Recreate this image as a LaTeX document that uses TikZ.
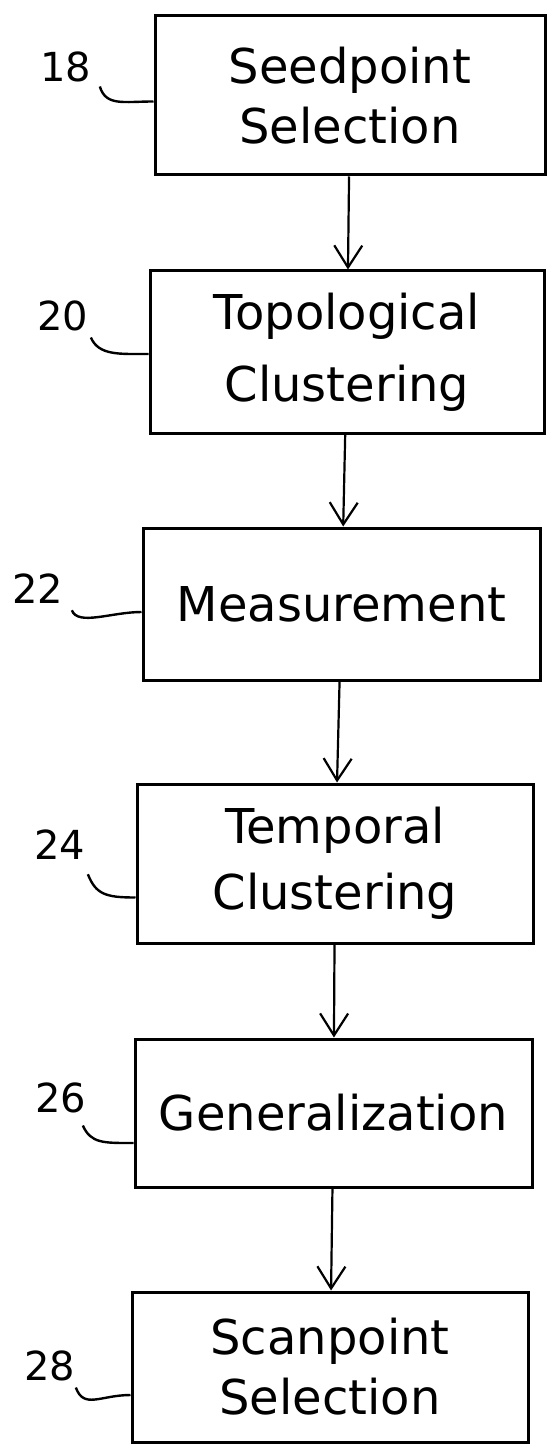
\documentclass[tikz,border=0pt]{standalone}
\usepackage{fontspec}
\setmainfont{DejaVu Sans}
\usetikzlibrary{arrows.meta}
\tikzset{
  stepbox/.style={draw, line width=1.5pt, align=center, inner sep=0pt,
    font=\fontsize{24}{30}\selectfont},
  refnum/.style={inner sep=0pt, font=\fontsize{20}{20}\selectfont},
  leader/.style={line width=1.2pt},
  flow/.style={line width=1.1pt, -{Straight Barb[length=11pt,width=14pt,line width=1.1pt]}}
}

\begin{document}
\begin{tikzpicture}[x=0.5pt,y=-0.5pt]
\useasboundingbox (0,0) rectangle (546,1444);
% process steps
\node[stepbox, minimum width=195pt, minimum height=79.5pt] (seed) at (350,95.5) {Seedpoint\\Selection};
\node[stepbox, minimum width=197pt, minimum height=81pt] (topo) at (347,352) {Topological\\[6pt]Clustering};
\node[stepbox, minimum width=198.5pt, minimum height=76pt] (meas) at (341.5,604) {Measurement};
\node[stepbox, minimum width=198pt, minimum height=79.5pt] (temp) at (335,863.5) {Temporal\\[3pt]Clustering};
\node[stepbox, minimum width=198.5pt, minimum height=74pt] (gen) at (333.5,1113) {Generalization};
\node[stepbox, minimum width=198pt, minimum height=75pt] (scan) at (330,1367) {Scanpoint\\Selection};
% reference numerals
\node[refnum] (n18) at (66,67) {18};
\node[refnum] (n20) at (63,316) {20};
\node[refnum] (n22) at (38,589) {22};
\node[refnum] (n24) at (60,845) {24};
\node[refnum] (n26) at (61,1098) {26};
\node[refnum] (n28) at (50,1366) {28};
% leaders
\draw[leader] ([shift={(4pt,-2pt)}]n18.south east) .. controls +(6,20) and +(-30,0) .. ([yshift=-3pt]seed.west);
\draw[leader] ([shift={(1pt,-3pt)}]n20.south east) .. controls +(8,18) and +(-30,0) .. ([yshift=-1pt]topo.west);
\draw[leader] ([shift={(4pt,-3pt)}]n22.south east) .. controls +(6,16) and +(-30,0) .. ([yshift=-4pt]meas.west);
\draw[leader] ([shift={(1pt,-7pt)}]n24.south east) .. controls +(8,20) and +(-30,0) .. ([yshift=-17pt]temp.west);
\draw[leader] ([shift={(-2pt,-6pt)}]n26.south east) .. controls +(8,18) and +(-30,0) .. ([yshift=-15pt]gen.west);
\draw[leader] ([shift={(0pt,-3pt)}]n28.south east) .. controls +(8,22) and +(-30,0) .. ([yshift=-14pt]scan.west);
% arrows
\draw[flow] (seed) -- (topo);
\draw[flow] (topo) -- (meas);
\draw[flow] (meas) -- (temp);
\draw[flow] (temp) -- (gen);
\draw[flow] (gen) -- (scan);
\end{tikzpicture}
\end{document}
